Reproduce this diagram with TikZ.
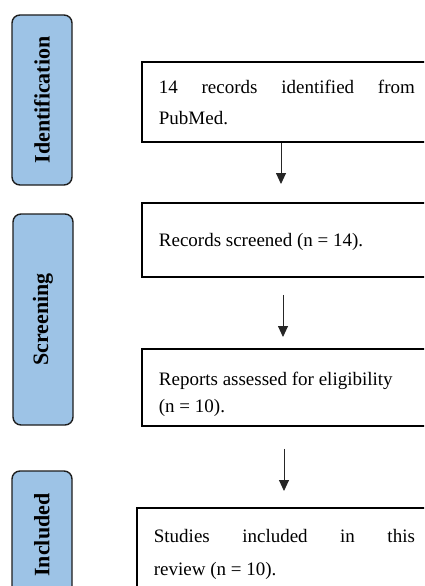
\documentclass[tikz,border=0pt]{standalone}
\usepackage{fontspec}
\setmainfont{Liberation Serif}
\usetikzlibrary{arrows.meta}
\definecolor{stageblue}{RGB}{157,195,230}
\definecolor{stageedge}{RGB}{30,30,30}
\newcommand{\lift}[1]{\rule{0pt}{#1}}
\tikzset{
  stage/.style={draw=stageedge, line width=1.4pt, fill=stageblue, rounded corners=8pt,
    rotate=90, minimum height=60pt, inner sep=0pt,
    font=\fontsize{22}{26}\selectfont\bfseries},
  flowbox/.style={draw=black, line width=1.8pt, anchor=north west, inner xsep=17pt,
    inner ysep=0pt, text width=256pt, align=justify,
    font=\fontsize{19}{#1}\selectfont},
  flowbox/.default=31,
  flowarrow/.style={line width=0.9pt, draw=black!85, -{Triangle[width=10pt,length=11pt]}},
}
\begin{document}
\begin{tikzpicture}[x=1pt,y=-1pt]
  \clip (0,0) rectangle (424,586);
  \fill[white] (0,0) rectangle (424,586);

  % stage labels on the left
  \node[stage, minimum width=170pt] (sid) at (42,100) {Identification};
  \node[stage, minimum width=211pt] (sscr) at (43,319.5) {Screening};
  \node[stage, minimum width=128pt] (sinc) at (42,535) {Included};

  % flow boxes
  \node[flowbox=31, minimum height=80pt] (b1) at (141,61)
    {\lift{15pt}14 records identified from\linebreak PubMed.};
  \node[flowbox=31, minimum height=74pt] (b2) at (141,202)
    {\lift{17pt}Records screened (n = 14).};
  \node[flowbox=27, minimum height=77pt] (b3) at (141,348)
    {\lift{28pt}Reports assessed for eligibility\\ (n = 10).};
  \node[flowbox=33, minimum height=93pt, text width=261pt] (b4) at (136,507)
    {Studies included in this\linebreak review (n = 10).};

  % arrows between the boxes
  \draw[flowarrow, shorten >=18pt] (b1.south -| 281,0) -- (b2.north -| 281,0);
  \draw[flowarrow, shorten <=17pt, shorten >=11pt] (b2.south -| 283,0) -- (b3.north -| 283,0);
  \draw[flowarrow, shorten <=22pt, shorten >=16pt] (b3.south -| 284,0) -- (b4.north -| 284,0);
\end{tikzpicture}
\end{document}
